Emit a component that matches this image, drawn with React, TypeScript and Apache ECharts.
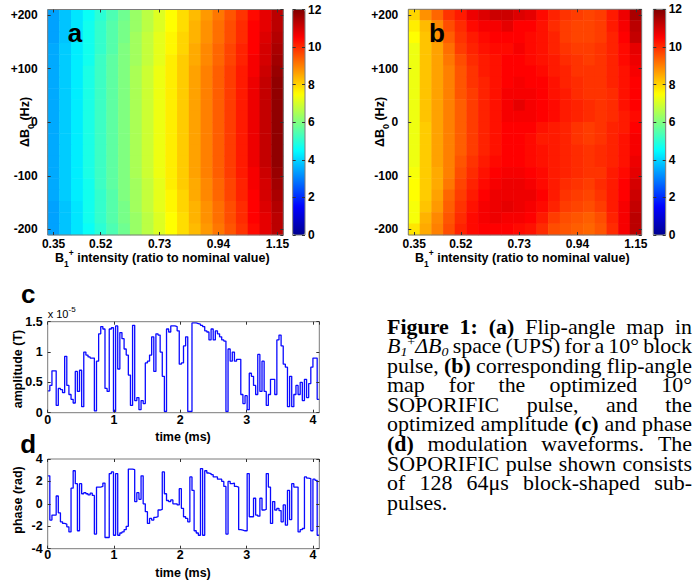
import React, { useEffect, useRef } from "react";
import * as echarts from "echarts";

// ---------- data ----------
const B1_RATIOS = ["0.35","0.39","0.43","0.48","0.52","0.56","0.60","0.65","0.69","0.73","0.77","0.81","0.86","0.90","0.94","0.98","1.02","1.07","1.11","1.15"];
const B1_LABEL_IDX = [0, 4, 9, 14, 19];
const DB0_CATS = ["-200","-179","-158","-137","-116","-95","-74","-53","-32","-11","11","32","53","74","95","116","137","158","179","200"];

// Flip angle (deg), rows from dB0 = +200 (top) to -200 (bottom), columns B1 0.35 -> 1.15
const MAP_A = [
  [3.4,3.8,4.2,4.6,5.0,5.4,5.8,6.3,6.7,7.1,7.5,7.9,8.3,8.7,9.1,9.5,9.9,10.4,10.8,11.3],
  [3.4,3.8,4.2,4.7,5.1,5.5,5.9,6.3,6.7,7.1,7.5,7.9,8.4,8.8,9.2,9.6,10.0,10.5,10.8,11.3],
  [3.4,3.8,4.2,4.7,5.1,5.5,5.9,6.4,6.8,7.2,7.6,8.0,8.4,8.8,9.2,9.6,10.0,10.5,10.9,11.4],
  [3.5,3.9,4.3,4.7,5.1,5.5,6.0,6.4,6.8,7.2,7.6,8.0,8.5,8.9,9.3,9.7,10.1,10.5,11.0,11.5],
  [3.5,3.9,4.3,4.7,5.2,5.6,6.0,6.4,6.8,7.2,7.7,8.1,8.5,8.9,9.3,9.7,10.1,10.6,11.0,11.6],
  [3.5,3.9,4.3,4.8,5.2,5.6,6.0,6.5,6.9,7.3,7.7,8.1,8.6,9.0,9.4,9.8,10.2,10.6,11.1,11.7],
  [3.5,3.9,4.3,4.8,5.2,5.6,6.0,6.5,6.9,7.3,7.7,8.1,8.6,9.0,9.4,9.8,10.2,10.7,11.2,11.8],
  [3.5,3.9,4.3,4.8,5.2,5.6,6.0,6.5,6.9,7.3,7.7,8.1,8.6,9.0,9.4,9.8,10.2,10.7,11.2,11.8],
  [3.5,3.9,4.3,4.8,5.2,5.6,6.0,6.5,6.9,7.3,7.7,8.1,8.6,9.0,9.4,9.8,10.2,10.7,11.2,11.8],
  [3.5,3.9,4.3,4.8,5.2,5.6,6.0,6.5,6.9,7.3,7.7,8.1,8.6,9.0,9.4,9.8,10.2,10.7,11.2,11.8],
  [3.5,3.9,4.3,4.8,5.2,5.6,6.0,6.5,6.9,7.3,7.7,8.1,8.6,9.0,9.4,9.8,10.2,10.7,11.2,11.8],
  [3.5,3.9,4.3,4.8,5.2,5.6,6.0,6.5,6.9,7.3,7.7,8.1,8.6,9.0,9.4,9.8,10.2,10.7,11.2,11.8],
  [3.5,3.9,4.3,4.8,5.2,5.6,6.0,6.5,6.9,7.3,7.7,8.1,8.6,9.0,9.4,9.8,10.2,10.7,11.2,11.8],
  [3.5,3.9,4.3,4.8,5.2,5.6,6.0,6.5,6.9,7.3,7.7,8.1,8.6,9.0,9.4,9.8,10.2,10.7,11.2,11.8],
  [3.5,3.9,4.3,4.8,5.2,5.6,6.0,6.5,6.9,7.3,7.7,8.1,8.6,9.0,9.4,9.8,10.2,10.6,11.1,11.7],
  [3.5,3.9,4.3,4.7,5.2,5.6,6.0,6.4,6.8,7.2,7.7,8.1,8.5,8.9,9.3,9.7,10.1,10.6,11.0,11.6],
  [3.5,3.9,4.3,4.7,5.1,5.5,6.0,6.4,6.8,7.2,7.6,8.0,8.5,8.9,9.3,9.7,10.1,10.5,11.0,11.5],
  [3.4,3.8,4.2,4.7,5.1,5.5,5.9,6.4,6.8,7.2,7.6,8.0,8.4,8.8,9.2,9.6,10.0,10.5,10.9,11.4],
  [3.4,3.8,4.2,4.7,5.1,5.5,5.9,6.3,6.7,7.1,7.5,7.9,8.4,8.8,9.2,9.6,10.0,10.5,10.8,11.3],
  [3.4,3.8,4.2,4.6,5.0,5.4,5.8,6.3,6.7,7.1,7.5,7.9,8.3,8.7,9.1,9.5,9.9,10.4,10.8,11.3],
];

const MAP_B = [
  [8.0,8.8,9.3,9.9,10.2,10.7,10.9,11.1,11.1,10.9,10.8,10.4,10.1,9.9,9.8,9.7,9.8,10.2,10.7,11.5],
  [7.7,8.3,8.9,9.6,10.0,10.4,10.6,10.6,10.8,10.5,10.5,10.3,10.0,9.8,9.7,9.7,9.8,10.2,10.6,11.3],
  [7.5,8.2,8.8,9.4,9.9,10.2,10.4,10.5,10.5,10.5,10.4,10.3,10.1,9.8,9.7,9.7,9.8,10.1,10.5,11.2],
  [7.3,8.2,8.6,9.2,9.8,10.1,10.3,10.4,10.4,10.6,10.4,10.3,10.1,9.9,9.8,9.8,9.9,10.1,10.4,10.8],
  [7.3,8.2,8.6,9.1,9.6,10.0,10.2,10.3,10.5,10.5,10.4,10.3,10.2,10.0,9.9,9.8,9.9,10.1,10.4,10.7],
  [7.3,8.2,8.6,9.0,9.5,9.9,10.2,10.3,10.5,10.5,10.5,10.4,10.2,10.1,9.9,9.9,9.9,10.1,10.3,10.6],
  [7.3,8.2,8.6,9.0,9.5,9.9,10.1,10.3,10.5,10.6,10.5,10.5,10.3,10.1,10.0,9.9,9.9,10.1,10.3,10.5],
  [7.3,8.2,8.6,9.0,9.5,9.8,10.1,10.3,10.6,10.6,10.6,10.5,10.3,10.2,10.0,9.9,9.9,10.0,10.3,10.5],
  [7.3,8.2,8.6,9.0,9.4,9.8,10.1,10.3,10.6,10.8,10.6,10.5,10.4,10.2,10.1,10.0,9.9,10.0,10.3,10.5],
  [7.3,8.2,8.6,9.0,9.4,9.8,10.1,10.3,10.6,10.6,10.6,10.5,10.4,10.2,10.1,10.0,9.9,10.0,10.2,10.4],
  [7.3,8.1,8.6,9.0,9.4,9.8,10.1,10.3,10.5,10.5,10.5,10.3,10.2,10.1,9.9,9.8,9.9,10.1,10.2,10.5],
  [7.3,8.1,8.6,9.0,9.4,9.8,10.1,10.3,10.5,10.5,10.4,10.2,10.2,10.1,9.9,9.8,9.9,10.1,10.3,10.6],
  [7.3,8.1,8.6,9.0,9.4,9.8,10.1,10.3,10.5,10.5,10.4,10.3,10.2,10.1,10.0,9.9,10.0,10.1,10.3,10.6],
  [7.3,8.1,8.6,9.0,9.5,9.9,10.2,10.4,10.5,10.5,10.4,10.3,10.2,10.1,10.0,9.9,10.0,10.1,10.3,10.7],
  [7.4,8.1,8.5,9.0,9.6,10.0,10.3,10.5,10.6,10.6,10.5,10.4,10.2,10.1,10.0,9.9,9.9,10.2,10.4,10.8],
  [7.5,8.1,8.5,9.1,9.7,10.1,10.4,10.6,10.7,10.7,10.6,10.4,10.2,10.0,9.9,9.8,10.0,10.2,10.5,11.0],
  [7.5,8.1,8.6,9.3,9.8,10.2,10.5,10.7,10.7,10.7,10.7,10.5,10.2,9.9,9.8,9.7,9.9,10.2,10.5,11.1],
  [7.4,8.2,8.7,9.4,9.9,10.3,10.6,10.7,10.8,10.7,10.6,10.4,10.1,9.8,9.7,9.6,9.8,10.2,10.6,11.2],
  [7.4,8.4,8.9,9.5,10.0,10.4,10.6,10.7,10.6,10.6,10.5,10.2,9.8,9.6,9.5,9.4,9.6,10.1,10.6,11.3],
  [7.8,8.5,9.0,9.6,10.1,10.4,10.5,10.5,10.5,10.4,10.3,10.0,9.6,9.5,9.4,9.3,9.5,10.0,10.6,11.3],
];

const COLORBAR_MAX = 12;

// sub-pulse duration (ms) and waveforms, one value per sub-pulse
const SUBPULSE_MS = 0.032;
const AMPLITUDE_E5 = [
  0.36,0.45,0.69,0.69,0.12,0.40,0.38,0.33,0.93,0.45,
  0.30,0.22,0.16,0.68,0.35,0.70,0.10,1.00,0.95,0.92,
  0.90,0.90,0.03,0.85,1.30,1.42,1.38,0.40,0.35,1.38,
  1.40,0.02,1.43,0.72,1.32,1.22,1.05,0.95,0.62,0.12,
  1.44,0.20,0.25,0.05,0.20,0.15,0.82,0.85,0.95,1.25,
  0.68,1.30,1.28,1.00,0.60,0.02,1.38,1.33,1.43,1.43,
  1.42,1.35,0.80,0.82,1.10,1.25,0.02,0.02,1.48,1.48,
  1.47,1.46,1.44,1.42,1.35,1.33,1.20,1.38,1.20,1.35,
  1.30,1.25,1.20,1.18,0.02,1.05,0.85,1.00,0.85,0.88,
  0.88,0.30,0.15,0.28,0.05,0.65,0.60,0.45,0.30,0.96,
  0.35,0.85,0.35,0.12,0.30,0.55,0.55,0.30,1.20,1.28,
  1.10,0.80,0.75,0.10,0.60,0.10,0.30,0.45,0.30,0.50,
  0.20,0.55,0.25,0.48,0.75,0.90,0.90,0.22,
];
const PHASE_RAD = [
  2.5,-1.45,-1.0,-1.0,0.7,-0.8,-1.6,-1.75,-1.8,-2.05,
  -2.5,1.4,2.95,1.8,-2.4,1.8,0.9,1.0,0.9,0.8,
  0.95,0.75,-2.7,1.5,1.5,1.55,1.85,-3.0,-3.0,2.7,
  2.85,-2.8,2.7,-2.8,-2.6,-2.5,-2.3,-2.0,3.1,3.1,
  3.05,0.2,1.0,0.4,2.5,0.0,-0.7,-1.75,-1.3,-1.45,
  -1.2,-1.15,-0.55,-0.5,2.85,0.9,0.3,0.2,0.35,0.0,
  0.0,-0.1,1.35,-0.4,-1.15,-1.3,-1.6,2.4,1.2,-2.4,
  -2.6,-2.8,3.15,-2.8,2.95,2.75,2.7,2.6,2.4,2.4,
  2.2,2.2,2.0,1.55,-2.7,2.0,1.8,1.85,1.55,1.5,
  -2.3,-2.35,-2.4,-2.4,2.7,-1.15,-1.15,0.5,-1.0,-1.1,
  0.5,-0.55,-0.5,2.7,1.5,-1.75,0.2,-0.55,-0.4,-0.6,
  -1.6,-0.1,-1.9,1.2,-1.4,1.8,1.5,1.5,-2.5,-2.3,
  -2.2,2.4,2.3,2.25,-2.4,2.2,2.1,-2.8,
];

const CAPTION = [
  [{ t: "Figure", b: true }, { t: "1:", b: true }, { t: "(a)", b: true }, { t: "Flip-angle" }, { t: "map" }, { t: "in" }],
  [{ t: "B1+ΔB0", r: true }, { t: "space" }, { t: "(UPS)" }, { t: "for" }, { t: "a" }, { t: "10°" }, { t: "block" }],
  [{ t: "pulse," }, { t: "(b)", b: true }, { t: "corresponding" }, { t: "flip-angle" }],
  [{ t: "map" }, { t: "for" }, { t: "the" }, { t: "optimized" }, { t: "10°" }],
  [{ t: "SOPORIFIC" }, { t: "pulse," }, { t: "and" }, { t: "the" }],
  [{ t: "optimized" }, { t: "amplitude" }, { t: "(c)", b: true }, { t: "and" }, { t: "phase" }],
  [{ t: "(d)", b: true }, { t: "modulation" }, { t: "waveforms." }, { t: "The" }],
  [{ t: "SOPORIFIC" }, { t: "pulse" }, { t: "shown" }, { t: "consists" }],
  [{ t: "of" }, { t: "128" }, { t: "64μs" }, { t: "block-shaped" }, { t: "sub-" }],
  [{ t: "pulses." }],
];

// ---------- styles ----------
const JET = ["#00008F", "#0000FF", "#0080FF", "#00FFFF", "#80FF80", "#FFFF00", "#FF8000", "#FF0000", "#800000"];
const SANS = '"Liberation Sans", Arial, sans-serif';
const SERIF = '"Liberation Serif", "Times New Roman", serif';
const FRAME = "#7a7a7a";
const TICKC = "#333";
const LBL = { color: "#000", fontFamily: SANS, fontWeight: "bold" as const, fontSize: 12.5 };
const LBL_HM = { ...LBL, fontSize: 12 };

function App() {
  const ref = useRef<HTMLDivElement>(null);
  useEffect(() => {
    document.body.style.margin = "0";
    const el = ref.current!;
    const chart = echarts.init(el, undefined, { renderer: "svg" });

    const canvas = document.createElement("canvas");
    const ctx = canvas.getContext("2d")!;
    const measure = (s: string, font: string) => { ctx.font = font; return ctx.measureText(s).width; };

    const grids = [
      { left: 47.7, top: 9.5, width: 235.6, height: 225.5 },
      { left: 292.7, top: 9.5, width: 12.3, height: 225.5 },
      { left: 408.3, top: 9.3, width: 233.4, height: 225.7 },
      { left: 653.3, top: 9.3, width: 12.4, height: 225.7 },
      { left: 47.7, top: 321.7, width: 271.6, height: 91 },
      { left: 47.7, top: 459, width: 271.6, height: 89.7 },
    ].map((g) => ({ ...g, show: true, borderColor: FRAME, borderWidth: 1, backgroundColor: "transparent", z: 10 }));

    const tick = (len = 3) => ({ show: true, inside: true, length: len, lineStyle: { color: TICKC, width: 1 } });
    const noLine = { show: false, onZero: false };
    const noSplit = { show: false };
    const showIdx = (i: number) => B1_LABEL_IDX.indexOf(i) >= 0;

    const catX = (gridIndex: number, position: string, labels: boolean) => ({
      type: "category", gridIndex, position, data: B1_RATIOS, boundaryGap: true, z: 10,
      axisLine: noLine, splitLine: noSplit,
      axisTick: { ...tick(3), alignWithLabel: true, interval: (i: number) => showIdx(i) },
      axisLabel: { show: labels, interval: (i: number) => showIdx(i), margin: 3, lineHeight: 12, ...LBL_HM },
    });
    const db0Axis = (gridIndex: number, position: string, labels: boolean) => ({
      type: "value", gridIndex, position, min: -210.526, max: 210.526, splitNumber: 4, z: 10,
      axisLine: noLine, splitLine: noSplit, axisTick: tick(3),
      axisLabel: {
        show: labels, margin: 10, showMinLabel: false, showMaxLabel: false, ...LBL_HM,
        formatter: (v: number) => (v > 0 ? "+" + v : String(v)),
      },
    });
    const cbAxis = (gridIndex: number, position: string, labels: boolean) => ({
      type: "value", gridIndex, position, min: 0, max: COLORBAR_MAX, interval: 2, z: 10,
      axisLine: noLine, splitLine: noSplit, axisTick: tick(3),
      axisLabel: { show: labels, margin: 3, ...LBL_HM },
    });
    const timeAxis = (gridIndex: number, position: string, labels: boolean, margin: number) => ({
      type: "value", gridIndex, position, min: 0, max: 4.096, interval: 1, z: 10,
      axisLine: noLine, splitLine: noSplit, axisTick: tick(3),
      axisLabel: { show: labels, margin, showMaxLabel: false, ...LBL },
    });
    const valAxis = (gridIndex: number, position: string, labels: boolean, min: number, max: number, interval: number) => ({
      type: "value", gridIndex, position, min, max, interval, z: 10,
      axisLine: noLine, splitLine: noSplit, axisTick: tick(3),
      axisLabel: { show: labels, margin: 5, ...LBL },
    });

    const xAxis = [
      catX(0, "bottom", true),             // 0
      catX(0, "top", false),               // 1
      { type: "value", gridIndex: 1, min: 0, max: 1, show: false }, // 2
      catX(2, "bottom", true),             // 3
      catX(2, "top", false),               // 4
      { type: "value", gridIndex: 3, min: 0, max: 1, show: false }, // 5
      timeAxis(4, "bottom", true, 1),      // 6
      timeAxis(4, "top", false, 1),        // 7
      timeAxis(5, "bottom", true, 0),      // 8
      timeAxis(5, "top", false, 0),        // 9
    ];
    const yAxis = [
      { type: "category", gridIndex: 0, data: DB0_CATS, show: false }, // 0
      db0Axis(0, "left", true),             // 1
      db0Axis(0, "right", false),           // 2
      cbAxis(1, "right", true),             // 3
      cbAxis(1, "left", false),             // 4
      { type: "category", gridIndex: 2, data: DB0_CATS, show: false }, // 5
      db0Axis(2, "left", true),             // 6
      db0Axis(2, "right", false),           // 7
      cbAxis(3, "right", true),             // 8
      cbAxis(3, "left", false),             // 9
      valAxis(4, "left", true, 0, 1.5, 0.5),  // 10
      valAxis(4, "right", false, 0, 1.5, 0.5), // 11
      valAxis(5, "left", true, -4, 4, 2),     // 12
      valAxis(5, "right", false, -4, 4, 2),   // 13
    ];

    const heat = (m: number[][]) => {
      const out: number[][] = [];
      m.forEach((row, r) => row.forEach((v, c) => out.push([c, m.length - 1 - r, v])));
      return out;
    };
    const stepData = (vals: number[]) => {
      const d = vals.map((v, i) => [i * SUBPULSE_MS, v]);
      d.push([vals.length * SUBPULSE_MS, vals[vals.length - 1]]);
      return d;
    };

    const series: any[] = [
      { type: "heatmap", xAxisIndex: 0, yAxisIndex: 0, data: heat(MAP_A), itemStyle: { borderWidth: 0 }, emphasis: { disabled: true }, progressive: 0 },
      { type: "heatmap", xAxisIndex: 3, yAxisIndex: 5, data: heat(MAP_B), itemStyle: { borderWidth: 0 }, emphasis: { disabled: true }, progressive: 0 },
      { type: "line", xAxisIndex: 6, yAxisIndex: 10, data: stepData(AMPLITUDE_E5), step: "end", symbol: "none", lineStyle: { color: "#0a0aff", width: 1.3 }, z: 3 },
      { type: "line", xAxisIndex: 8, yAxisIndex: 12, data: stepData(PHASE_RAD), step: "end", symbol: "none", lineStyle: { color: "#0a0aff", width: 1.3 }, z: 3 },
    ];

    const vm = (seriesIndex: number, g: any) => ({
      type: "continuous", seriesIndex, min: 0, max: COLORBAR_MAX, dimension: 2, calculable: false, show: true,
      left: g.left, top: g.top, itemWidth: g.width, itemHeight: g.height, padding: 0, z: 1,
      hoverLink: false, inRange: { color: JET },
    });

    // ---------- graphic texts ----------
    const g: any[] = [];
    const txt = (x: number, y: number, text: string, o: any = {}) => {
      const style: any = {
        text, fontFamily: o.family || SANS, fontSize: o.size || 12.5, fontWeight: o.weight || "bold",
        fontStyle: o.fstyle || "normal", fill: "#000",
        align: o.align || "left", verticalAlign: o.valign || "middle",
        textAlign: o.align || "left", textVerticalAlign: o.valign || "middle",
      };
      if (o.rich) style.rich = o.rich;
      g.push({ type: "text", x, y, rotation: o.rotation || 0, scaleX: o.scaleX || 1, z: 100, silent: true, style });
    };
    const sansRich = (main: number, sub: number, lh: number) => ({
      m: { fontFamily: SANS, fontWeight: "bold", fontSize: main, lineHeight: lh, fill: "#000" },
      s: { fontFamily: SANS, fontWeight: "bold", fontSize: sub, lineHeight: sub, verticalAlign: "bottom", fill: "#000" },
      p: { fontFamily: SANS, fontWeight: "bold", fontSize: sub, lineHeight: sub, verticalAlign: "top", fill: "#000" },
    });

    // panel letters
    txt(75, 32.7, "a", { size: 26, align: "center" });
    txt(437, 32.7, "b", { size: 26, align: "center" });
    txt(28.3, 294.3, "c", { size: 26, align: "center" });
    txt(28.3, 443.7, "d", { size: 26, align: "center" });

    // heatmap axis titles
    [0, 360].forEach((dx, k) => {
      txt(55 + dx, 258, "{m|B}{s|1}{p|+}{m| intensity (ratio to nominal value)}", { rich: sansRich(12.5, 8.5, 20) });
      txt(k === 0 ? 25 : 380, 122, "{m|ΔB}{s|0}{m| (Hz)}", { rich: sansRich(12.5, 9, 20), align: "center", rotation: Math.PI / 2 });
    });

    // waveform titles
    txt(183, 436.5, "time (ms)", { align: "center" });
    txt(183, 573, "time (ms)", { align: "center" });
    txt(17.5, 369, "amplitude (T)", { align: "center", rotation: Math.PI / 2 });
    txt(17.5, 500, "phase (rad)", { align: "center", rotation: Math.PI / 2 });
    txt(47.7, 313.5, "{m|x 10}{p|-5}", {
      rich: {
        m: { fontFamily: SANS, fontWeight: "normal", fontSize: 11, lineHeight: 16, fill: "#000" },
        p: { fontFamily: SANS, fontWeight: "normal", fontSize: 8, lineHeight: 8, verticalAlign: "top", fill: "#000" },
      },
    });

    // caption (justified, word by word)
    const CFS = 20.5, SX = 1.07, CL = 387, CR = 692, CT = 326.9, CLH = 19.55;
    const fReg = `${CFS}px ${SERIF}`;
    const fBold = `bold ${CFS}px ${SERIF}`;
    const fIt = `italic ${CFS}px ${SERIF}`;
    const fItS = `italic 13px ${SERIF}`;
    const fS = `13px ${SERIF}`;
    const richCap = {
      i: { fontFamily: SERIF, fontStyle: "italic", fontSize: CFS, lineHeight: 23, fill: "#000" },
      is: { fontFamily: SERIF, fontStyle: "italic", fontSize: 13, lineHeight: 13, verticalAlign: "bottom", fill: "#000" },
      sp: { fontFamily: SERIF, fontSize: 13, lineHeight: 13, verticalAlign: "top", fill: "#000" },
    };
    CAPTION.forEach((line: any[], li) => {
      const widths = line.map((w) => {
        if (w.r) return (measure("B", fIt) + measure("1", fItS) + measure("+", fS) + measure("ΔB", fIt) + measure("0", fItS)) * SX;
        return measure(w.t, w.b ? fBold : fReg) * SX;
      });
      const total = widths.reduce((a, b) => a + b, 0);
      const last = li === CAPTION.length - 1;
      const gap = last || line.length < 2 ? measure(" ", fReg) * SX : (CR - CL - total) / (line.length - 1);
      let x = CL;
      const y = CT + li * CLH;
      line.forEach((w, wi) => {
        if (w.r) {
          txt(x, y, "{i|B}{is|1}{sp|+}{i|ΔB}{is|0}", { family: SERIF, size: CFS, weight: "normal", scaleX: SX, rich: richCap });
        } else {
          txt(x, y, w.t, { family: SERIF, size: CFS, weight: w.b ? "bold" : "normal", scaleX: SX });
        }
        x += widths[wi] + gap;
      });
    });

    chart.setOption({
      animation: false,
      backgroundColor: "#ffffff",
      grid: grids,
      xAxis,
      yAxis,
      visualMap: [vm(0, grids[1]), vm(1, grids[3])],
      series,
      graphic: g,
    });

    return () => chart.dispose();
  }, []);
  return <div ref={ref} style={{ width: 696, height: 582 }} />;
}

export default App;
